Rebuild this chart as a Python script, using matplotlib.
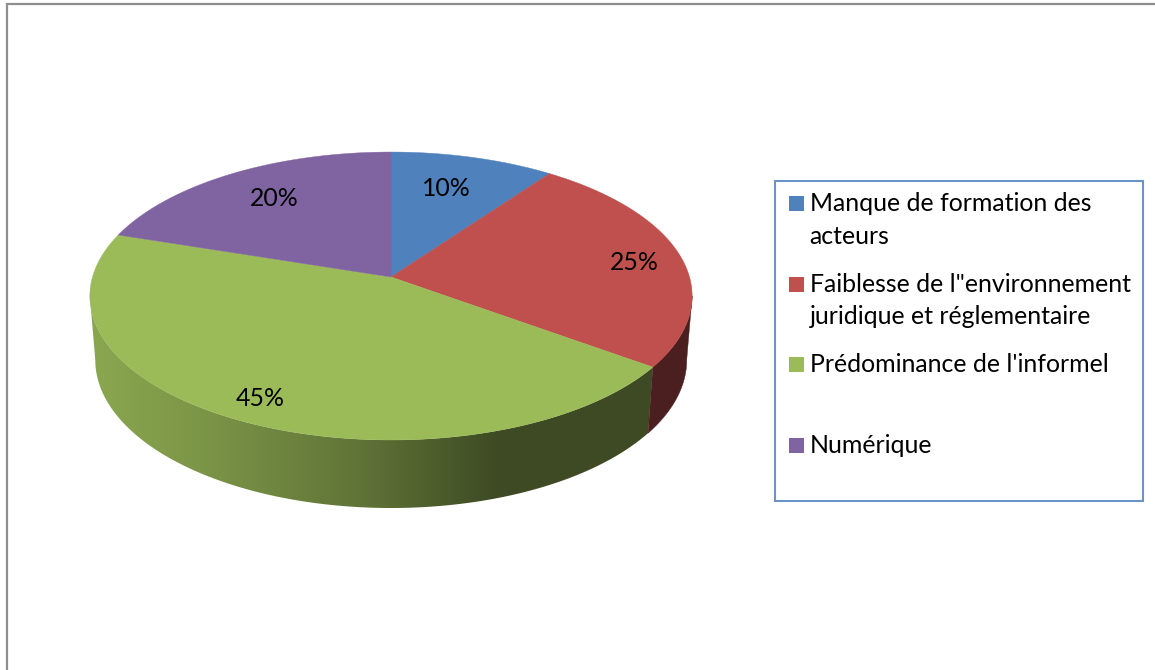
import numpy as np
import matplotlib
matplotlib.use('Agg')
import matplotlib.pyplot as plt
from matplotlib.patches import Polygon, Rectangle

plt.rcParams['font.family'] = ['Lato', 'DejaVu Sans']

# Donnees
labels = ['Manque de formation des\nacteurs',
          'Faiblesse de l"environnement\njuridique et réglementaire',
          "Prédominance de l'informel",
          'Numérique']
values = [10, 25, 45, 20]
colors = ['#4F81BD', '#C0504D', '#9BBB59', '#8064A2']
pct_pos = [(446.5, 188), (634.5, 262), (260.5, 398), (274.5, 198)]

# Perspective du disque (pixels de l'image)
CX, APEX_Y = 391.0, 277.0
S, A, K = 298.5, -104.9, 0.132
MID_Y, BOT_Y, BOT_SX, BOT_SY = 296.0, 360.0, 0.982, 1.028
FONT = 17.95


def top_xy(theta):
    # theta en radians, sens horaire depuis le haut
    u, v = np.sin(theta), np.cos(theta)
    d = 1 + K * v
    return CX + S * u / d, (APEX_Y + A * v) / d


def bot_xy(theta):
    x, y = top_xy(theta)
    return CX + (x - CX) * BOT_SX, BOT_Y + (y - MID_Y) * BOT_SY


fig = plt.figure(figsize=(11.55, 6.7), dpi=100)
ax = fig.add_axes([0, 0, 1, 1])

# Cadre du graphique
ax.plot([6.5, 6.5, 1155], [670, 4, 4], color='#8E8E8E', lw=1.6, solid_joinstyle='miter')

edges = np.radians(np.cumsum([0] + values) * 3.6)

# Assombrissement du flanc selon la position horizontale
xs = np.arange(80, 700)
shade = np.interp(xs, [96, 200, 360, 497, 700], [0.89, 0.80, 0.62, 0.40, 0.40])

# Partie visible du flanc : entre les deux extremites de l'ellipse
front0 = np.arccos(-K)
front1 = 2 * np.pi - front0

# Flancs
for i, val in enumerate(values):
    t0, t1 = max(edges[i], front0), min(edges[i + 1], front1)
    if t1 <= t0:
        continue
    ts = np.linspace(t0, t1, 200)
    xt, yt = top_xy(ts)
    xb, yb = bot_xy(ts)
    outline = np.column_stack([np.r_[xt, xb[::-1]], np.r_[yt, yb[::-1]]])
    if colors[i] == '#C0504D':
        ax.add_patch(Polygon(outline, closed=True, facecolor='#4B1F1F', edgecolor='#4B1F1F',
                             lw=0.3, zorder=2))
    else:
        rgb = np.array(matplotlib.colors.to_rgb(colors[i]))
        grad = (shade[:, None] * rgb)[None, :, :]
        im = ax.imshow(grad, extent=(xs[0], xs[-1], 520, 140), aspect='auto',
                       interpolation='bilinear', zorder=1)
        im.set_clip_path(Polygon(outline, closed=True, transform=ax.transData))

# Dessus
for i, val in enumerate(values):
    ts = np.linspace(edges[i], edges[i + 1], 200)
    x, y = top_xy(ts)
    pts = np.column_stack([np.r_[CX, x], np.r_[APEX_Y, y]])
    ax.add_patch(Polygon(pts, closed=True, facecolor=colors[i], edgecolor=colors[i],
                         lw=0.3, zorder=3))
    ax.text(pct_pos[i][0], pct_pos[i][1], '%d%%' % val, ha='center', va='center',
            fontsize=FONT, color='black', zorder=4)

# Legende
ax.add_patch(Rectangle((775, 180.5), 368, 320.5, facecolor='white', edgecolor='#6A94C8',
                       lw=1.5, zorder=1))
swatch_y = [196, 277, 357, 438]
baselines = [[211, 244], [292, 324], [372], [453]]
for i, lab in enumerate(labels):
    ax.add_patch(Rectangle((789, swatch_y[i]), 15, 15, facecolor=colors[i], lw=0, zorder=2))
    for line, by in zip(lab.split('\n'), baselines[i]):
        ax.text(809.5, by, line, ha='left', va='baseline', fontsize=FONT, color='black', zorder=3)

ax.set_xlim(0, 1155)
ax.set_ylim(670, 0)
ax.axis('off')

fig.savefig('out.png', dpi=100)
